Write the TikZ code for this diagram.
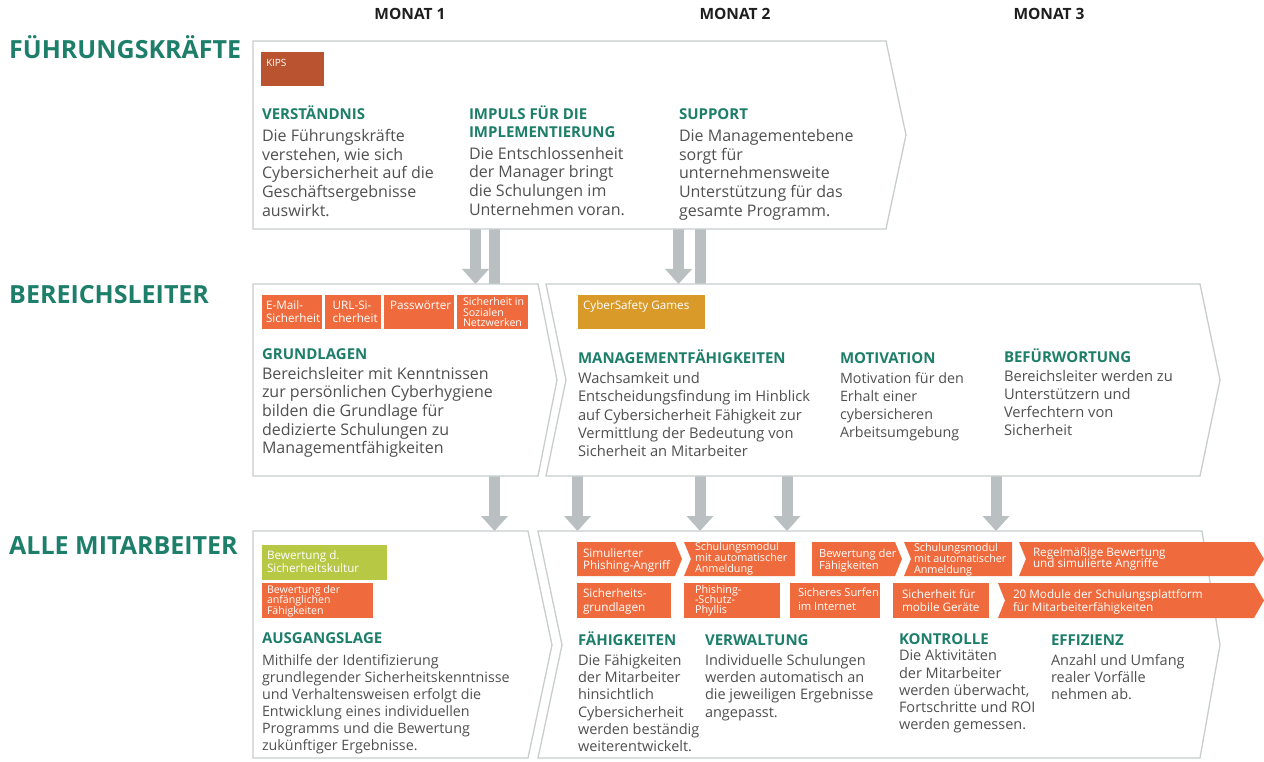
\documentclass[tikz,border=0pt]{standalone}
\usepackage{fontspec}
\setmainfont{Open Sans}
\usetikzlibrary{arrows.meta}
\definecolor{kgreen}{RGB}{29,126,106}
\definecolor{ktext}{RGB}{80,80,80}
\definecolor{kdark}{RGB}{30,30,30}
\definecolor{kline}{RGB}{200,205,206}
\definecolor{karrow}{RGB}{186,191,194}
\definecolor{korange}{RGB}{239,107,61}
\definecolor{krust}{RGB}{186,84,48}
\definecolor{kamber}{RGB}{218,154,42}
\definecolor{klime}{RGB}{182,200,68}
\begin{document}
\lineskiplimit=-10pt
\begin{tikzpicture}[x=1pt,y=-1pt,
  panel/.style={draw=kline, line width=1.3pt, fill=white},
  conn/.style={draw=karrow, line width=11pt, -{Triangle[width=27pt,length=15pt,line width=0pt]}},
  barline/.style={draw=karrow, line width=11pt},
  txt/.style={anchor=base west, inner sep=0pt, outer sep=0pt, align=left},
  hd/.style={txt, text=kgreen, font=\bfseries\fontsize{15}{17.3}\selectfont},
  bodyL/.style={txt, text=ktext, font=\fontsize{16}{18.6}\selectfont},
  bodyM/.style={txt, text=ktext, font=\fontsize{14.7}{18.4}\selectfont},
  bodyS/.style={txt, text=ktext, font=\fontsize{14.5}{17.1}\selectfont},
  tagtxt/.style={txt, text=white, font=\fontsize{11.7}{13}\selectfont},
  tagtight/.style={txt, text=white, font=\fontsize{10.6}{10.6}\selectfont},
  rowlab/.style={anchor=base west, inner sep=0pt, text=kgreen, font=\bfseries\fontsize{25}{28}\selectfont},
  month/.style={anchor=base, inner sep=0pt, text=kdark, font=\bfseries\fontsize{15.5}{18}\selectfont},
]
\useasboundingbox (0,0) rectangle (1264,762);

% header
\node[month] (m1) at (410,20) {MONAT 1};
\node[month] (m2) at (735,20) {MONAT 2};
\node[month] (m3) at (1049,20) {MONAT 3};

% row labels
\node[rowlab] (r1) at (9,58.5) {FÜHRUNGSKRÄFTE};
\node[rowlab] (r2) at (9,303.3) {BEREICHSLEITER};
\node[rowlab] (r3) at (9,554) {ALLE MITARBEITER};

% connector end points
\coordinate (a1s) at (475.5,229); \coordinate (a1e) at (475.5,284);
\coordinate (b1s) at (494.5,229); \coordinate (b1e) at (494.5,284);
\coordinate (a2s) at (678.5,229); \coordinate (a2e) at (678.5,284);
\coordinate (b2s) at (700,229);   \coordinate (b2e) at (700,284);
\coordinate (c1s) at (494.5,476); \coordinate (c1e) at (494.5,531);
\coordinate (c2s) at (577.5,476); \coordinate (c2e) at (577.5,531);
\coordinate (c3s) at (700,476);   \coordinate (c3e) at (700,531);
\coordinate (c4s) at (787,476);   \coordinate (c4e) at (787,531);
\coordinate (c5s) at (996,476);   \coordinate (c5e) at (996,531);

\draw[conn] (a1s) -- (a1e);
\draw[barline] (b1s) -- (b1e);
\draw[conn] (a2s) -- (a2e);
\draw[barline] (b2s) -- (b2e);
\draw[conn] (c1s) -- (c1e);
\draw[conn] (c2s) -- (c2e);
\draw[conn] (c3s) -- (c3e);
\draw[conn] (c4s) -- (c4e);
\draw[conn] (c5s) -- (c5e);

% panels
\path[panel] (253,41) -- (886,41) -- (906,135) -- (886,229) -- (253,229) -- cycle;
\path[panel] (253,284) -- (538,284) -- (557,380) -- (538,476) -- (253,476) -- cycle;
\path[panel] (546,284) -- (1200,284) -- (1220,380) -- (1200,476) -- (546,476) -- (566,380) -- cycle;
\path[panel] (253,531) -- (528,531) -- (552,645) -- (528,758) -- (253,758) -- cycle;
\path[panel] (538,531) -- (1202,531) -- (1220,645) -- (1200,758) -- (538,758) -- (562,645) -- cycle;

% ---------- row 1
\fill[krust] (261,52) rectangle (324,86);
\node[txt, text=white, font=\fontsize{10}{11}\selectfont] (kips) at (266,66.7) {KIPS};

\node[hd] (h11) at (262,120) {VERSTÄNDNIS};
\node[bodyL] (t11) at (262,216.1) {Die Führungskräfte\\verstehen, wie sich\\Cybersicherheit auf die\\Geschäftsergebnisse\\auswirkt.};
\node[hd] (h12) at (469,137.3) {IMPULS FÜR DIE\\IMPLEMENTIERUNG};
\node[bodyL] (t12) at (469,215.1) {Die Entschlossenheit\\der Manager bringt\\die Schulungen im\\Unternehmen voran.};
\node[hd] (h13) at (679,120) {SUPPORT};
\node[bodyL] (t13) at (679,216.1) {Die Managementebene\\sorgt für\\unternehmensweite\\Unterstützung für das\\gesamte Programm.};

% ---------- row 2
\fill[korange] (262,295) rectangle (322,329);
\fill[korange] (325,295) rectangle (381,329);
\fill[korange] (384,295) rectangle (454,329);
\fill[korange] (457,295) rectangle (528,329);
\fill[kamber] (578,295) rectangle (705,329);
\node[tagtxt] (g1) at (266,322.3) {E-Mail-\\Sicherheit};
\node[tagtxt] (g2) at (332.7,322.3) {URL-Si-\\cherheit};
\node[tagtxt] (g3) at (390,309.3) {Passwörter};
\node[tagtight] (g4) at (463,326.9) {Sicherheit in\\Sozialen\\Netzwerken};
\node[tagtxt] (g5) at (583,309.3) {CyberSafety Games};

\node[hd] (h21) at (262,359.3) {GRUNDLAGEN};
\node[bodyL] (t21) at (262,453.7) {Bereichsleiter mit Kenntnissen\\zur persönlichen Cyberhygiene\\bilden die Grundlage für\\dedizierte Schulungen zu\\Managementfähigkeiten};
\node[hd] (h22) at (578,363.3) {MANAGEMENTFÄHIGKEITEN};
\node[bodyM] (t22) at (578,456.9) {Wachsamkeit und\\Entscheidungsfindung im Hinblick\\auf Cybersicherheit Fähigkeit zur\\Vermittlung der Bedeutung von\\Sicherheit an Mitarbeiter};
\node[hd] (h23) at (840,363.3) {MOTIVATION};
\node[txt, text=ktext, font=\fontsize{14.3}{18.3}\selectfont] (t23) at (840,437.9) {Motivation für den\\Erhalt einer\\cybersicheren\\Arbeitsumgebung};
\node[hd] (h24) at (1004,362.7) {BEFÜRWORTUNG};
\node[txt, text=ktext, font=\fontsize{14.7}{18.3}\selectfont] (t24) at (1004,435.9) {Bereichsleiter werden zu\\Unterstützern und\\Verfechtern von\\Sicherheit};

% ---------- row 3
\fill[klime] (262,545) rectangle (387,580);
\fill[korange] (262,583) rectangle (373,618);
\node[tagtxt] (s1) at (267,572.3) {Bewertung d.\\Sicherheitskultur};
\node[tagtight] (s2) at (267,614.5) {Bewertung der\\anfänglichen\\Fähigkeiten};

\fill[korange] (577,542) -- (675,542) -- (682,559) -- (675,576) -- (577,576) -- cycle;
\fill[korange] (684,542) -- (795,542) -- (795,576) -- (684,576) -- (691,559) -- cycle;
\fill[korange] (812,542) -- (895,542) -- (902,559) -- (895,576) -- (812,576) -- cycle;
\fill[korange] (904,542) -- (1012,542) -- (1012,576) -- (904,576) -- (911,559) -- cycle;
\fill[korange] (1019,542) -- (1254,542) -- (1264,559) -- (1254,576) -- (1019,576) -- (1026,559) -- cycle;
\fill[korange] (577,583) rectangle (671,618);
\fill[korange] (684,583) rectangle (780,618);
\fill[korange] (790,583) rectangle (880,618);
\fill[korange] (893,583) rectangle (989,618);
\fill[korange] (998,583) -- (1254,583) -- (1264,600.5) -- (1254,618) -- (998,618) -- (1005,600.5) -- cycle;

\node[tagtxt, font=\fontsize{11.7}{12}\selectfont] (p1) at (583,569) {Simulierter\\Phishing-Angriff};
\node[tagtight, font=\fontsize{10.8}{11}\selectfont] (p2) at (695,572.7) {Schulungsmodul\\mit automatischer\\Anmeldung};
\node[tagtxt, font=\fontsize{11.2}{12}\selectfont] (p3) at (819,569) {Bewertung der\\Fähigkeiten};
\node[tagtight, font=\fontsize{10.8}{11}\selectfont] (p4) at (914,573.2) {Schulungsmodul\\mit automatischer\\Anmeldung};
\node[tagtxt, font=\fontsize{11.7}{11}\selectfont] (p5) at (1033,567.7) {Regelmäßige Bewertung\\und simulierte Angriffe};
\node[tagtxt, font=\fontsize{11.7}{13.3}\selectfont] (q1) at (583,611) {Sicherheits-\\grundlagen};
\node[tagtight, font=\fontsize{10.8}{10.2}\selectfont] (q2) at (695,613.7) {Phishing-\\-Schutz-\\Phyllis};
\node[tagtxt, font=\fontsize{11.2}{13.3}\selectfont] (q3) at (798,610) {Sicheres Surfen\\im Internet};
\node[tagtxt, font=\fontsize{11.7}{13.5}\selectfont] (q4) at (902,611.5) {Sicherheit für\\mobile Geräte};
\node[tagtxt, font=\fontsize{11.7}{13.5}\selectfont] (q5) at (1013,611.5) {20 Module der Schulungsplattform\\für Mitarbeiterfähigkeiten};

\node[hd] (h31) at (262,643.3) {AUSGANGSLAGE};
\node[txt, text=ktext, font=\fontsize{14.3}{17.1}\selectfont] (t31) at (262,750.5) {Mithilfe der Identifizierung\\grundlegender Sicherheitskenntnisse\\und Verhaltensweisen erfolgt die\\Entwicklung eines individuellen\\Programms und die Bewertung\\zukünftiger Ergebnisse.};
\node[hd] (h32) at (578,645) {FÄHIGKEITEN};
\node[bodyS] (t32) at (578,751.2) {Die Fähigkeiten\\der Mitarbeiter\\hinsichtlich\\Cybersicherheit\\werden beständig\\weiterentwickelt.};
\node[hd] (h33) at (705,645) {VERWALTUNG};
\node[bodyS] (t33) at (705,717) {Individuelle Schulungen\\werden automatisch an\\die jeweiligen Ergebnisse\\angepasst.};
\node[hd] (h34) at (899,644) {KONTROLLE};
\node[txt, text=ktext, font=\fontsize{14.5}{17.3}\selectfont] (t34) at (899,729.9) {Die Aktivitäten\\der Mitarbeiter\\werden überwacht,\\Fortschritte und ROI\\werden gemessen.};
\node[hd] (h35) at (1051,645) {EFFIZIENZ};
\node[bodyS] (t35) at (1051,699.9) {Anzahl und Umfang\\realer Vorfälle\\nehmen ab.};
\end{tikzpicture}
\end{document}
